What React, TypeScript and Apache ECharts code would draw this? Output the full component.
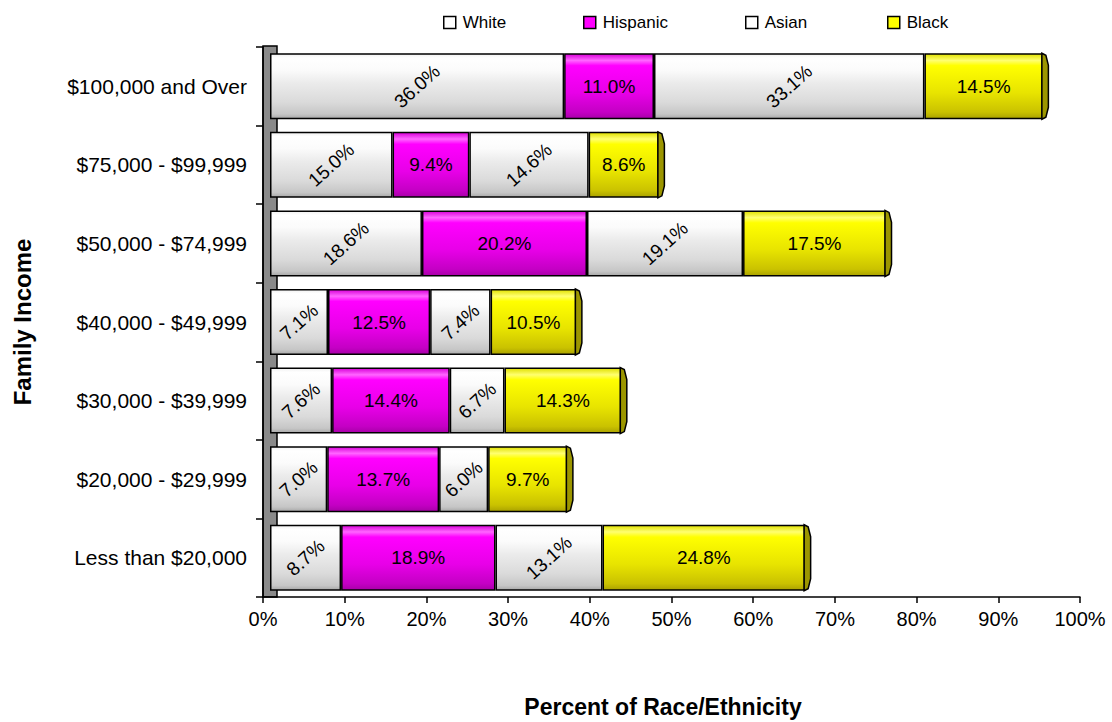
import React, { useEffect, useRef } from "react";
import * as echarts from "echarts";

const categories = [
  "Less than $20,000",
  "$20,000 - $29,999",
  "$30,000 - $39,999",
  "$40,000 - $49,999",
  "$50,000 - $74,999",
  "$75,000 - $99,999",
  "$100,000 and Over",
];
const white = [8.7, 7.0, 7.6, 7.1, 18.6, 15.0, 36.0];
const hispanic = [18.9, 13.7, 14.4, 12.5, 20.2, 9.4, 11.0];
const asian = [13.1, 6.0, 6.7, 7.4, 19.1, 14.6, 33.1];
const black = [24.8, 9.7, 14.3, 10.5, 17.5, 8.6, 14.5];
const seriesNames = ["White", "Hispanic", "Asian", "Black"];

const FONT = "'Liberation Sans', Arial, sans-serif";

const grad = (stops: [number, string][]) =>
  new echarts.graphic.LinearGradient(
    0, 0, 0, 1,
    stops.map(([offset, color]) => ({ offset, color }))
  );

const whiteGrad = () =>
  grad([
    [0, "#f0f0f0"],
    [0.06, "#ffffff"],
    [0.25, "#fbfbfb"],
    [0.45, "#ebebeb"],
    [0.75, "#dadada"],
    [0.93, "#c6c6c6"],
    [1, "#a8a8a8"],
  ]);
const magentaGrad = () =>
  grad([
    [0, "#d800d8"],
    [0.1, "#ff66ff"],
    [0.18, "#ff00ff"],
    [0.6, "#e800e8"],
    [0.9, "#c400c4"],
    [1, "#a800a8"],
  ]);
const yellowGrad = () =>
  grad([
    [0, "#e0e000"],
    [0.1, "#ffff70"],
    [0.18, "#ffff00"],
    [0.6, "#e8e400"],
    [0.9, "#cac200"],
    [1, "#aaa200"],
  ]);

export default function App() {
  const ref = useRef<HTMLDivElement>(null);

  useEffect(() => {
    if (!ref.current) return;
    const chart = echarts.init(ref.current, null, { renderer: "svg" });

    const totals = categories.map(
      (_, i) => white[i] + hispanic[i] + asian[i] + black[i]
    );

    const fmt = (p: any) => `${Number(p.value).toFixed(1)}%`;

    const mkSeries = (
      name: string,
      data: number[],
      color: any,
      rotate: number
    ) => ({
      name,
      type: "bar",
      stack: "total",
      xAxisIndex: 1,
      yAxisIndex: 1,
      barCategoryGap: "16%",
      data,
      itemStyle: { color, borderColor: "#000", borderWidth: 1.5 },
      label: {
        show: true,
        position: "inside",
        rotate,
        formatter: fmt,
        color: "#000",
        fontSize: 19,
        fontFamily: FONT,
      },
    });

    const legendItem = (name: string, color: string, left: number) => ({
      left,
      top: 14,
      padding: 0,
      data: [{ name, itemStyle: { color, borderColor: "#000", borderWidth: 1.5 } }],
      icon: "rect",
      itemWidth: 12,
      itemHeight: 12,
      itemGap: 0,
      selectedMode: false,
      textStyle: { fontSize: 17, fontFamily: FONT, color: "#000", padding: [0, 0, 0, 2] },
    });

    chart.setOption({
      animation: false,
      backgroundColor: "#ffffff",
      textStyle: { fontFamily: FONT },
      legend: [
        legendItem(seriesNames[0], "#ffffff", 443),
        legendItem(seriesNames[1], "#ff00ff", 583),
        legendItem(seriesNames[2], "#ffffff", 745),
        legendItem(seriesNames[3], "#ffff00", 887),
      ],
      grid: [
        { left: 263, right: 32, top: 47, bottom: 125, outerBoundsMode: "none" },
        { left: 270, right: 25, top: 47, bottom: 125, outerBoundsMode: "none" },
      ],
      xAxis: [
        {
          gridIndex: 0,
          type: "value",
          min: 0,
          max: 100,
          interval: 10,
          axisLine: { show: true, lineStyle: { color: "#000", width: 1.5 } },
          axisTick: { show: true, length: 6, lineStyle: { color: "#000", width: 1.5 } },
          splitLine: { show: false },
          axisLabel: {
            formatter: "{value}%",
            fontSize: 20,
            color: "#000",
            fontFamily: FONT,
            margin: 12,
          },
        },
        {
          gridIndex: 1,
          type: "value",
          min: 0,
          max: 100,
          show: false,
          splitLine: { show: false },
        },
      ],
      yAxis: [
        {
          gridIndex: 0,
          type: "category",
          data: categories,
          axisLine: { show: true, lineStyle: { color: "#000", width: 1.5 } },
          axisTick: { show: true, length: 7, lineStyle: { color: "#000", width: 1.5 } },
          axisLabel: {
            fontSize: 21,
            color: "#000",
            fontFamily: FONT,
            margin: 16,
          },
        },
        {
          gridIndex: 1,
          type: "category",
          data: categories,
          show: false,
        },
      ],
      graphic: [
        {
          type: "rect",
          z: 0,
          shape: { x: 263, y: 46, width: 14, height: 551 },
          style: { fill: "#8a8a8a", stroke: "#000", lineWidth: 1.5 },
        },
        {
          type: "text",
          x: 22,
          y: 322,
          rotation: Math.PI / 2,
          style: {
            text: "Family Income",
            font: `bold 24px ${FONT}`,
            fill: "#000",
            align: "center",
            verticalAlign: "middle",
          },
        },
        {
          type: "text",
          x: 663,
          y: 707,
          style: {
            text: "Percent of Race/Ethnicity",
            font: `bold 23px ${FONT}`,
            fill: "#000",
            align: "center",
            verticalAlign: "middle",
          },
        },
      ],
      series: [
        mkSeries("White", white, whiteGrad(), 42),
        mkSeries("Hispanic", hispanic, magentaGrad(), 0),
        mkSeries("Asian", asian, whiteGrad(), 42),
        mkSeries("Black", black, yellowGrad(), 0),
        {
          type: "custom",
          xAxisIndex: 1,
          yAxisIndex: 1,
          z: 3,
          silent: true,
          data: totals.map((t, i) => [t, i]),
          renderItem: (params: any, api: any) => {
            const p = api.coord([api.value(0), api.value(1)]);
            const h = api.size([0, 1])[1] * 0.84;
            const cx = p[0];
            const t = p[1] - h / 2;
            const b = p[1] + h / 2;
            return {
              type: "polygon",
              shape: {
                points: [
                  [cx - 1, t],
                  [cx + 3, t + 2],
                  [cx + 5.5, t + 12],
                  [cx + 5.5, b - 12],
                  [cx + 3, b - 2],
                  [cx - 1, b],
                ],
              },
              style: { fill: "#9c9600", stroke: "#000", lineWidth: 1.5 },
            };
          },
        },
      ],
    });

    return () => chart.dispose();
  }, []);

  return (
    <div
      ref={ref}
      style={{ position: "absolute", left: 0, top: 0, width: 1112, height: 722 }}
    />
  );
}
